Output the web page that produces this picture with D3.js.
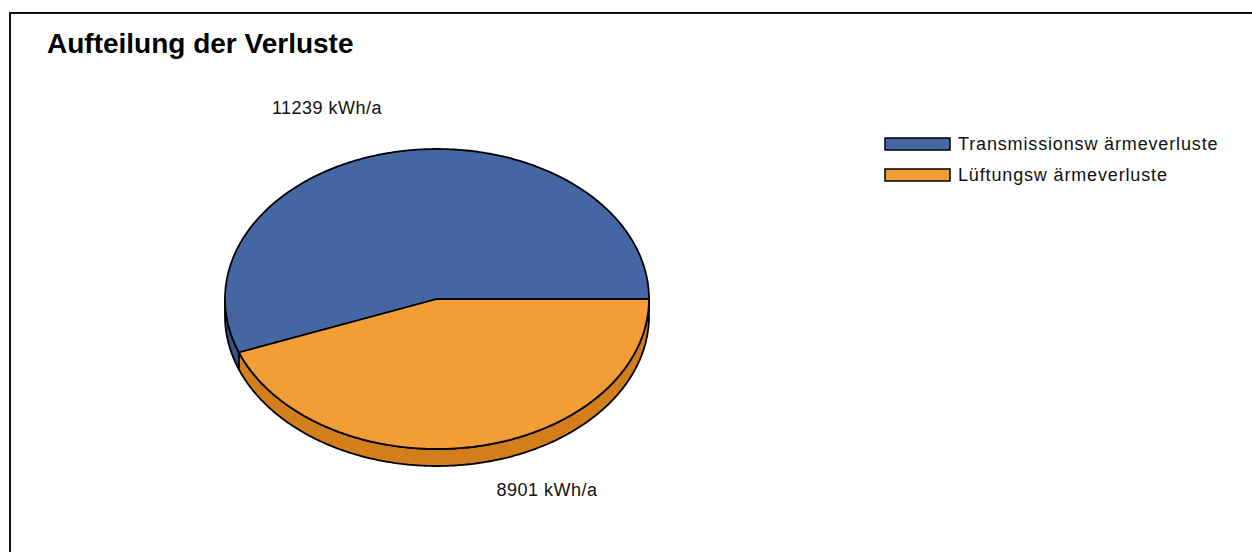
<!DOCTYPE html>
<html>
<head>
<meta charset="utf-8">
<script src="https://cdn.jsdelivr.net/npm/d3@7"></script>
<style>
  html, body { margin: 0; padding: 0; background: #fff; }
  svg { display: block; font-family: Arial, "Liberation Sans", sans-serif; }
</style>
</head>
<body>
<svg id="chart" width="1252" height="552"></svg>
<script>
// Heat-loss split (kWh/a)
const categories = ["Transmissionswärmeverluste", "Lüftungswärmeverluste"];
const legendLabels = ["Transmissionsw ärmeverluste", "Lüftungsw ärmeverluste"];
const values = [11239, 8901];
const unit = "kWh/a";
const title = "Aufteilung der Verluste";

const topColors = ["#4467A3", "#F39D37"];
const sideColors = ["#33528A", "#D27F1B"];

const svg = d3.select("#chart");
const W = 1252, H = 552;

// frame
svg.append("rect")
  .attr("x", 10).attr("y", 13)
  .attr("width", W + 20).attr("height", H + 20)
  .attr("fill", "#fff").attr("stroke", "#111").attr("stroke-width", 2);

svg.append("text")
  .attr("x", 47).attr("y", 53)
  .attr("font-size", 28).attr("font-weight", "bold")
  .attr("fill", "#000")
  .text(title);

// ellipse geometry of the tilted pie
const cx = 437, cy = 299, rx = 212, ry = 150, depth = 17;

const total = d3.sum(values);
// d3 angles: 0 at 12 o'clock, clockwise. Second slice starts at 3 o'clock.
const start = Math.PI / 2 - 2 * Math.PI * values[0] / total;
const pie = d3.pie().sort(null).value(d => d)
  .startAngle(start).endAngle(start + 2 * Math.PI);
const arcs = pie(values);

const angleScale = d3.scaleLinear().domain([0, 1]);
// d3 pie angle -> point on ellipse
function pt(a, dy = 0) {
  const t = a - Math.PI / 2;
  return [cx + rx * Math.cos(t), cy + ry * Math.sin(t) + dy];
}
function arcPoints(a0, a1, dy = 0) {
  const n = Math.max(2, Math.ceil(Math.abs(a1 - a0) / 0.01));
  angleScale.range([a0, a1]);
  return d3.range(n + 1).map(i => pt(angleScale(i / n), dy));
}
const line = d3.line();

// side walls: only the front half (d3 angle PI/2..3PI/2)
const frontA0 = Math.PI / 2, frontA1 = 3 * Math.PI / 2;
const sides = svg.append("g");
arcs.forEach((d, i) => {
  for (const shift of [-2 * Math.PI, 0, 2 * Math.PI]) {
    const a0 = Math.max(d.startAngle + shift, frontA0);
    const a1 = Math.min(d.endAngle + shift, frontA1);
    if (a1 > a0) {
      const topEdge = arcPoints(a0, a1, 0);
      const botEdge = arcPoints(a1, a0, depth);
      sides.append("path")
        .attr("d", line(topEdge.concat(botEdge)) + "Z")
        .attr("fill", sideColors[i])
        .attr("stroke", "#000").attr("stroke-width", 1.8)
        .attr("stroke-linejoin", "round");
    }
  }
});

// top faces
const tops = svg.append("g");
arcs.forEach((d, i) => {
  const pts = [[cx, cy]].concat(arcPoints(d.startAngle, d.endAngle, 0));
  tops.append("path")
    .attr("d", line(pts) + "Z")
    .attr("fill", topColors[i])
    .attr("stroke", "#000").attr("stroke-width", 1.8)
    .attr("stroke-linejoin", "round");
});

// value labels outside the pie
const labelTurn = 0.204, labelR = 1.377;
arcs.forEach((d, i) => {
  const mid = (d.startAngle + d.endAngle) / 2 - labelTurn;
  const t = mid - Math.PI / 2;
  const x = cx + rx * labelR * Math.cos(t);
  const y = cy + ry * labelR * Math.sin(t);
  svg.append("text")
    .attr("x", x).attr("y", y + 6)
    .attr("text-anchor", "middle")
    .attr("font-size", 18).attr("letter-spacing", 0.5).attr("fill", "#111")
    .text(d.data + " " + unit);
});

// legend
const legend = svg.append("g").attr("transform", "translate(885,138)");
categories.forEach((c, i) => {
  const g = legend.append("g").attr("transform", `translate(0,${i * 31})`);
  g.append("rect")
    .attr("x", 0).attr("y", 0).attr("width", 65).attr("height", 12)
    .attr("fill", topColors[i]).attr("stroke", "#000").attr("stroke-width", 1.5);
  g.append("text")
    .attr("x", 73).attr("y", 12)
    .attr("font-size", 18).attr("letter-spacing", 0.85).attr("fill", "#111")
    .text(legendLabels[i]);
});
</script>
</body>
</html>
